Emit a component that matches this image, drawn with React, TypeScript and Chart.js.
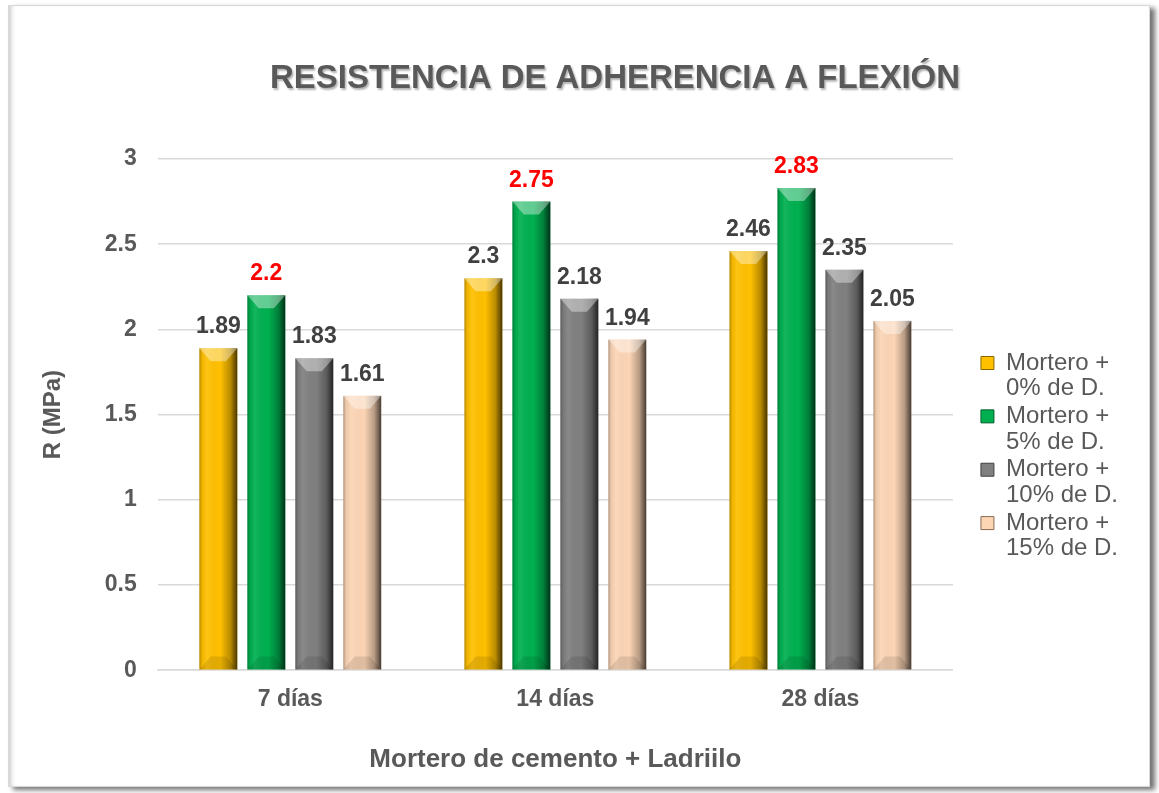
import { useEffect, useRef } from 'react';
import { Chart, registerables } from 'chart.js';

Chart.register(...registerables);

const categories = ['7 días', '14 días', '28 días'];
const seriesNameLines = [
  ['Mortero +', '0% de D.'],
  ['Mortero +', '5% de D.'],
  ['Mortero +', '10% de D.'],
  ['Mortero +', '15% de D.'],
];
const mortero0 = [1.89, 2.3, 2.46];
const mortero5 = [2.2, 2.75, 2.83];
const mortero10 = [1.83, 2.18, 2.35];
const mortero15 = [1.61, 1.94, 2.05];
const yTickValues = [0, 0.5, 1, 1.5, 2, 2.5, 3];
const seriesColors = ['#FFC000', '#00B050', '#808080', '#FCD5B5'];
const seriesBorder = ['#8a6800', '#00602c', '#404040', '#8a6a55'];
const valueLabelColors = ['#404040', '#FF0000', '#404040', '#404040'];

const titleText = 'RESISTENCIA DE ADHERENCIA A FLEXIÓN';
const yAxisTitle = 'R (MPa)';
const xAxisTitle = 'Mortero de cemento + Ladriilo';

const FONT = '"Liberation Sans", Arial, Helvetica, sans-serif';
const TEXT = '#595959';

const seriesValues = [mortero0, mortero5, mortero10, mortero15];

const bevelPlugin = {
  id: 'bevelAndLabels',
  afterDatasetsDraw(chart: any) {
    const ctx = chart.ctx as CanvasRenderingContext2D;
    chart.data.datasets.forEach((ds: any, di: number) => {
      const meta = chart.getDatasetMeta(di);
      if (meta.hidden) return;
      meta.data.forEach((el: any, idx: number) => {
        const { x, y, base, width } = el.getProps(['x', 'y', 'base', 'width'], true);
        const l = x - width / 2;
        const r = x + width / 2;
        const t = Math.min(y, base);
        const b = Math.max(y, base);
        ctx.save();
        const g = ctx.createLinearGradient(l, 0, r, 0);
        g.addColorStop(0, 'rgba(0,0,0,0.30)');
        g.addColorStop(0.07, 'rgba(0,0,0,0.06)');
        g.addColorStop(0.2, 'rgba(255,255,255,0.08)');
        g.addColorStop(0.55, 'rgba(0,0,0,0)');
        g.addColorStop(0.82, 'rgba(0,0,0,0.28)');
        g.addColorStop(1, 'rgba(0,0,0,0.72)');
        ctx.fillStyle = g;
        ctx.fillRect(l, t, width, b - t);
        const d = Math.min(13, (b - t) / 2);
        ctx.beginPath();
        ctx.moveTo(l, t);
        ctx.lineTo(r, t);
        ctx.lineTo(r - width * 0.3, t + d);
        ctx.lineTo(l + width * 0.3, t + d);
        ctx.closePath();
        ctx.fillStyle = 'rgba(255,255,255,0.38)';
        ctx.fill();
        ctx.beginPath();
        ctx.moveTo(l, b);
        ctx.lineTo(r, b);
        ctx.lineTo(r - width * 0.3, b - d);
        ctx.lineTo(l + width * 0.3, b - d);
        ctx.closePath();
        ctx.fillStyle = 'rgba(0,0,0,0.1)';
        ctx.fill();
        ctx.restore();

        const v = ds.data[idx];
        ctx.save();
        ctx.font = `bold 23px ${FONT}`;
        ctx.fillStyle = valueLabelColors[di];
        ctx.textAlign = 'center';
        ctx.textBaseline = 'alphabetic';
        ctx.fillText(String(v), x, t - 15);
        ctx.restore();
      });
    });
  },
};

const titlePlugin = {
  id: 'mainTitle',
  afterDraw(chart: any) {
    const ctx = chart.ctx as CanvasRenderingContext2D;
    ctx.save();
    ctx.font = `bold 33px ${FONT}`;
    ctx.fillStyle = TEXT;
    ctx.textAlign = 'center';
    ctx.textBaseline = 'alphabetic';
    ctx.shadowColor = 'rgba(0,0,0,0.3)';
    ctx.shadowBlur = 2;
    ctx.shadowOffsetX = 1.5;
    ctx.shadowOffsetY = 1.5;
    ctx.fillText(titleText, chart.width * 0.5316, 82, 690);
    ctx.restore();
  },
};

export default function App() {
  const ref = useRef<HTMLCanvasElement>(null);
  useEffect(() => {
    Chart.defaults.font.family = FONT;
    const chart = new Chart(ref.current as HTMLCanvasElement, {
      type: 'bar',
      data: {
        labels: categories,
        datasets: seriesValues.map((vals, i) => ({
          label: seriesNameLines[i].join(' '),
          data: vals,
          backgroundColor: seriesColors[i],
          borderWidth: 0,
          categoryPercentage: 0.724,
          barPercentage: 0.79,
        })),
      },
      options: {
        responsive: false,
        animation: false,
        layout: { padding: { top: 153, left: 30, right: 21, bottom: 11 } },
        plugins: {
          title: { display: false },
          tooltip: { enabled: false },
          legend: {
            position: 'right',
            align: 'start',
            title: { display: true, text: ' ', padding: { top: 166, bottom: 0 }, font: { size: 20 } },
            labels: {
              boxWidth: 13,
              boxHeight: 13,
              padding: 2,
              color: TEXT,
              font: { family: FONT, size: 24, lineHeight: 1.07 },
              generateLabels: (c: any) =>
                c.data.datasets.map((ds: any, i: number) => ({
                  text: seriesNameLines[i],
                  fillStyle: seriesColors[i],
                  strokeStyle: seriesBorder[i],
                  lineWidth: 1,
                  hidden: false,
                  datasetIndex: i,
                  fontColor: TEXT,
                })),
            },
          },
        },
        scales: {
          x: {
            grid: { display: false, drawTicks: false },
            border: { display: true, color: '#d9d9d9', width: 1.5 },
            ticks: { color: TEXT, font: { family: FONT, size: 23, weight: 'bold' }, padding: 16 },
            title: {
              display: true,
              text: xAxisTitle,
              color: TEXT,
              font: { family: FONT, size: 26, weight: 'bold' },
              padding: { top: 14, bottom: 0 },
            },
          },
          y: {
            min: 0,
            max: 3,
            afterBuildTicks: (scale: any) => {
              scale.ticks = yTickValues.map((v) => ({ value: v }));
            },
            grid: { color: '#d9d9d9', lineWidth: 1.5, drawTicks: false },
            border: { display: false },
            ticks: {
              color: TEXT,
              font: { family: FONT, size: 23, weight: 'bold' },
              padding: 21,
              callback: (v: any) => String(v),
            },
            title: {
              display: true,
              text: yAxisTitle,
              color: TEXT,
              font: { family: FONT, size: 24, weight: 'bold' },
              padding: { top: 0, bottom: 16 },
            },
          },
          spacer: {
            type: 'linear',
            position: 'right',
            display: true,
            grid: { display: false, drawTicks: false },
            border: { display: false },
            ticks: { display: false },
            afterFit: (s: any) => {
              s.width = 26;
            },
          },
        },
      } as any,
      plugins: [bevelPlugin, titlePlugin],
    });
    return () => chart.destroy();
  }, []);

  return (
    <div
      style={{
        position: 'absolute',
        left: 8,
        top: 5,
        width: 1142,
        height: 782,
        boxSizing: 'border-box',
        border: '1px solid #d9d9d9',
        background: '#fff',
        boxShadow: '5px 3px 5px rgba(0,0,0,0.55), inset 5px 0 5px -3px rgba(0,0,0,0.22)',
      }}
    >
      <canvas ref={ref} width={1140} height={780} style={{ display: 'block' }} />
    </div>
  );
}
